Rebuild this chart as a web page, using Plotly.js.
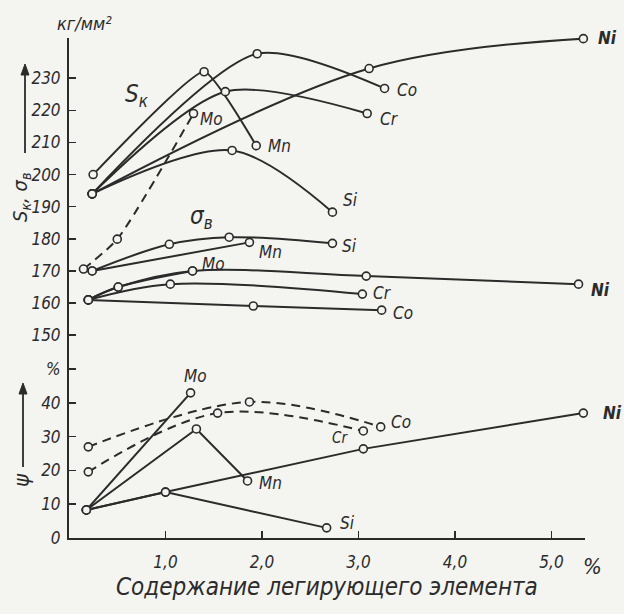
<!DOCTYPE html>
<html>
<head>
<meta charset="utf-8">
<script src="https://cdn.plot.ly/plotly-3.0.1.min.js"></script>
<style>body{margin:0;background:#f4f4f1}</style>
</head>
<body>
<div id="c" style="width:624px;height:614px"></div>
<script>
// ---- data: ultimate strength S_k (kg/mm2) vs alloying content (%) ----
const skMnX = [0.25, 1.40, 1.94], skMnY = [200, 232, 209];
const skCoX = [0.24, 1.95, 3.27], skCoY = [194, 237.6, 226.8];
const skCrX = [0.24, 1.62, 3.09], skCrY = [194, 225.8, 219];
const skNiX = [0.24, 3.11, 5.33], skNiY = [194, 233, 242.3];
const skSiX = [0.24, 1.69, 2.73], skSiY = [194, 207.5, 188.3];
const skMoX = [0.15, 0.50, 1.29], skMoY = [170.6, 179.9, 219];
// ---- tensile strength sigma_B (kg/mm2) ----
const sbSiX = [0.24, 1.04, 1.66, 2.73], sbSiY = [170, 178.3, 180.5, 178.6];
const sbMnX = [0.24, 1.87], sbMnY = [170, 178.9];
const sbMoX = [0.20, 0.51, 1.28], sbMoY = [161, 165, 170];
const sbNiX = [0.20, 0.51, 1.28, 3.08, 5.28], sbNiY = [161, 165, 170, 168.4, 165.9];
const sbCrX = [0.20, 1.05, 3.04], sbCrY = [161, 165.9, 162.8];
const sbCoX = [0.20, 1.91, 3.24], sbCoY = [161, 159.1, 157.8];
// ---- reduction of area psi (%) ----
const psMoX = [0.18, 1.26], psMoY = [8.3, 43];
const psMnX = [0.18, 1.32, 1.85], psMnY = [8.3, 32.3, 16.9];
const psSiX = [0.18, 1.00, 2.67], psSiY = [8.3, 13.6, 3];
const psNiX = [0.18, 1.00, 3.05, 5.33], psNiY = [8.3, 13.6, 26.4, 37];
const psCoX = [0.20, 1.87, 3.23], psCoY = [27, 40.3, 32.9];
const psCrX = [0.20, 1.54, 3.05], psCrY = [19.6, 37, 31.7];
// ---- ticks ----
const xTickVals = [1, 2, 3, 4, 5];
const xTickText = ['1,0', '2,0', '3,0', '4,0', '5,0'];
const upTickVals = [150, 160, 170, 180, 190, 200, 210, 220, 230];
const loTickVals = [0, 10, 20, 30, 40, 50];
const loTickText = ['0', '10', '20', '30', '40', '%'];

const INK = '#2b2b2b', BG = '#f4f4f1';
const F = "'Liberation Sans Narrow','DejaVu Sans Condensed','Liberation Sans',sans-serif";
const L = 69, T = 38, W = 516, H = 500;
function P(px, py) { return { x: (px - L) / W, y: (538 - py) / H }; }

function tr(x, y, axis, dash, smooth) {
  return {
    type: 'scatter', mode: 'lines+markers', x: x, y: y, yaxis: axis,
    line: { color: INK, width: 2, dash: dash || 'solid', shape: smooth ? 'spline' : 'linear', smoothing: smooth || 0 },
    marker: { symbol: 'circle', size: 8, color: BG, line: { color: INK, width: 1.6 } },
    cliponaxis: false, showlegend: false, hoverinfo: 'skip'
  };
}
const DASH = '9px,6px';
const data = [
  tr(skMnX, skMnY, 'y2', null, 0.4),
  tr(skCoX, skCoY, 'y2', null, 0.75),
  tr(skCrX, skCrY, 'y2', null, 0.8),
  tr(skNiX, skNiY, 'y2', null, 1),
  tr(skSiX, skSiY, 'y2', null, 0.9),
  tr(skMoX, skMoY, 'y2', DASH, 0.6),
  tr(sbSiX, sbSiY, 'y2', null, 1),
  tr(sbMnX, sbMnY, 'y2', null, 0),
  tr(sbMoX, sbMoY, 'y2', null, 1),
  tr(sbNiX, sbNiY, 'y2', null, 1),
  tr(sbCrX, sbCrY, 'y2', null, 1),
  tr(sbCoX, sbCoY, 'y2', null, 1),
  tr(psMoX, psMoY, 'y', null, 0),
  tr(psMnX, psMnY, 'y', null, 0),
  tr(psSiX, psSiY, 'y', null, 0),
  tr(psNiX, psNiY, 'y', null, 0),
  tr(psCoX, psCoY, 'y', DASH, 1),
  tr(psCrX, psCrY, 'y', DASH, 1)
];

function lab(text, px, py, size, bold, extra) {
  const p = P(px, py);
  return Object.assign({
    xref: 'paper', yref: 'paper', x: p.x, y: p.y, xanchor: 'center', yanchor: 'middle',
    text: text, showarrow: false,
    font: { family: F, size: size || 17, color: INK, style: 'italic', weight: bold ? 'bold' : 'normal' }
  }, extra || {});
}
// vertical arrows beside the axis titles (line + filled head), drawn in paper coordinates
function arrowShapes(px, pyHead, pyTail) {
  const h = P(px, pyHead), t = P(px, pyTail);
  const hb = P(px, pyHead + 11), hl = P(px - 4, pyHead + 11), hr = P(px + 4, pyHead + 11);
  return [
    { type: 'line', xref: 'paper', yref: 'paper', x0: t.x, y0: t.y, x1: hb.x, y1: hb.y, line: { color: INK, width: 1.8 } },
    { type: 'path', xref: 'paper', yref: 'paper',
      path: 'M' + h.x + ',' + h.y + ' L' + hl.x + ',' + hl.y + ' L' + hr.x + ',' + hr.y + ' Z',
      fillcolor: INK, line: { color: INK, width: 1 } }
  ];
}

const annotations = [
  lab('S<sub>к</sub>', 137, 95, 24),
  lab('Mo', 211, 119), lab('Mn', 279, 146), lab('Co', 407, 90), lab('Cr', 389, 119),
  lab('Ni', 607, 38, 17, true), lab('Si', 350, 200),
  lab('σ<sub>в</sub>', 201, 217, 24),
  lab('Mn', 270, 252), lab('Mo', 213, 264), lab('Si', 349, 246), lab('Cr', 382, 293),
  lab('Ni', 600, 290, 17, true), lab('Co', 403, 313),
  lab('Mo', 195, 376), lab('Mn', 270, 483), lab('Si', 347, 523), lab('Cr', 340, 438, 15),
  lab('Co', 401, 422), lab('Ni', 612, 413, 17, true),
  lab('кг/мм²', 84, 24, 18),
  lab('S<sub>к</sub>, σ<sub>в</sub>', 21, 198, 20, false, { textangle: -90 }),
  lab('ψ', 21, 480, 22, false, { textangle: -90 }),
  lab('Содержание легирующего элемента', 327, 587, 24),
  lab('%', 592, 566, 22)
];
const shapes = [].concat(arrowShapes(25, 64, 153), arrowShapes(23, 383, 467));

const tickFont = { family: F, size: 17, color: INK, style: 'italic' };
const layout = {
  width: 624, height: 614,
  margin: { l: L, r: 624 - L - W, t: T, b: 614 - T - H },
  paper_bgcolor: BG, plot_bgcolor: BG,
  showlegend: false,
  xaxis: {
    range: [0, W / 96.5], showgrid: false, zeroline: false, showline: true, linecolor: INK, linewidth: 2,
    ticks: 'inside', ticklen: 7, tickwidth: 1.5, tickcolor: INK,
    tickvals: xTickVals, ticktext: xTickText, tickfont: tickFont, ticklabelstandoff: 8,
    anchor: 'y'
  },
  yaxis: {
    domain: [0, 0.368], range: [0, 54.5], showgrid: false, zeroline: false, showline: true,
    linecolor: INK, linewidth: 2, ticks: 'inside', ticklen: 7, tickwidth: 1.5, tickcolor: INK,
    tickvals: loTickVals, ticktext: loTickText, tickfont: tickFont, ticklabelstandoff: 3, anchor: 'x'
  },
  yaxis2: {
    domain: [0.368, 1], range: [144.16, 242.5], showgrid: false, zeroline: false, showline: true,
    linecolor: INK, linewidth: 2, ticks: 'inside', ticklen: 7, tickwidth: 1.5, tickcolor: INK,
    tickvals: upTickVals, tickfont: tickFont, ticklabelstandoff: 3, anchor: 'x'
  },
  annotations: annotations,
  shapes: shapes
};
Plotly.newPlot('c', data, layout, { staticPlot: true });
</script>
</body>
</html>
